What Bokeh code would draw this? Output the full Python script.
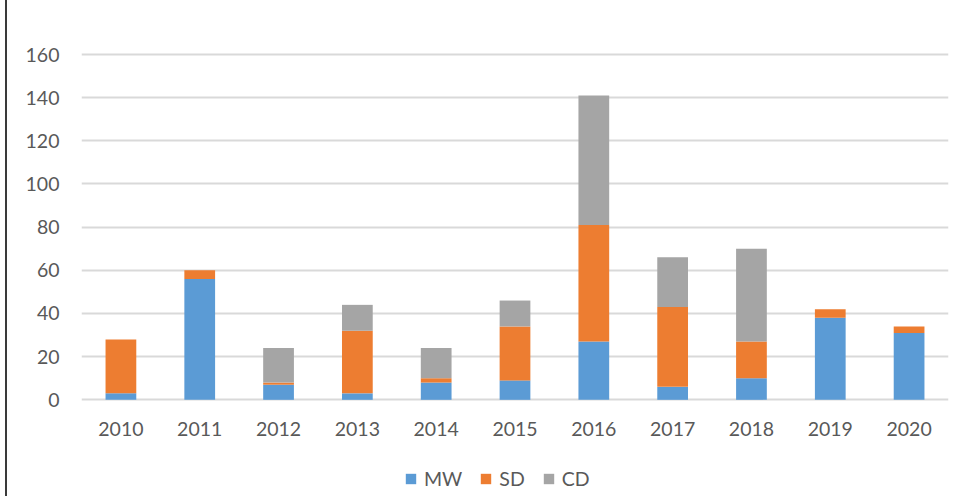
from bokeh.plotting import figure
from bokeh.models import FactorRange, Range1d, FixedTicker, Legend, LegendItem, InlineStyleSheet
from bokeh.embed import file_html
from bokeh.resources import INLINE

years = ["2010", "2011", "2012", "2013", "2014", "2015", "2016", "2017", "2018", "2019", "2020"]
mw = [3, 56, 7, 3, 8, 9, 27, 6, 10, 38, 31]
sd = [25, 4, 1, 29, 2, 25, 54, 37, 17, 4, 3]
cd = [0, 0, 16, 12, 14, 12, 60, 23, 43, 0, 0]
series = ["MW", "SD", "CD"]
colors = ["#5B9BD5", "#ED7D31", "#A5A5A5"]
y_ticks = [0, 20, 40, 60, 80, 100, 120, 140, 160]

FONT = "Lato"
TXT = "#595959"

# frame spans the whole lower area so the legend (drawn inside the frame) is not clipped;
# the x axis is pinned at y = 0
p = figure(x_range=FactorRange(factors=years), y_range=Range1d(-44.8, 160.93),
           width=960, height=496, output_backend="svg", toolbar_location=None,
           min_border_left=74, min_border_right=19, min_border_top=52, min_border_bottom=0)
p.outline_line_color = None
p.background_fill_color = "white"
p.border_fill_color = "white"
p.stylesheets = [InlineStyleSheet(css=":host { margin-left: 5px; border-left: 2px solid #3A3A3A; }")]

data = {"years": years, "MW": mw, "SD": sd, "CD": cd}
rs = p.vbar_stack(series, x="years", width=0.39, color=colors, source=data, line_color=None)

p.xgrid.grid_line_color = None
p.ygrid.grid_line_color = "#D9D9D9"
p.ygrid.grid_line_width = 2
p.yaxis.ticker = FixedTicker(ticks=y_ticks)
p.xaxis.fixed_location = 0

for ax in (p.xaxis[0], p.yaxis[0]):
    ax.axis_line_color = None
    ax.major_tick_line_color = None
    ax.minor_tick_line_color = None
    ax.major_tick_out = 0
    ax.major_tick_in = 0
    ax.minor_tick_out = 0
    ax.major_label_text_font = FONT
    ax.major_label_text_font_size = "19.5px"
    ax.major_label_text_color = TXT
p.yaxis.major_label_standoff = 22
p.xaxis.major_label_standoff = 22

legend = Legend(items=[LegendItem(label=s, renderers=[r]) for s, r in zip(series, rs)],
                orientation="horizontal", location=(323, 6),
                label_text_font=FONT, label_text_font_size="19.5px", label_text_color=TXT,
                glyph_width=13, glyph_height=13, label_height=20, label_standoff=7, spacing=17,
                border_line_color=None, background_fill_alpha=0, padding=0, margin=0)
p.add_layout(legend)

open("out.html", "w").write(file_html(p, INLINE))
